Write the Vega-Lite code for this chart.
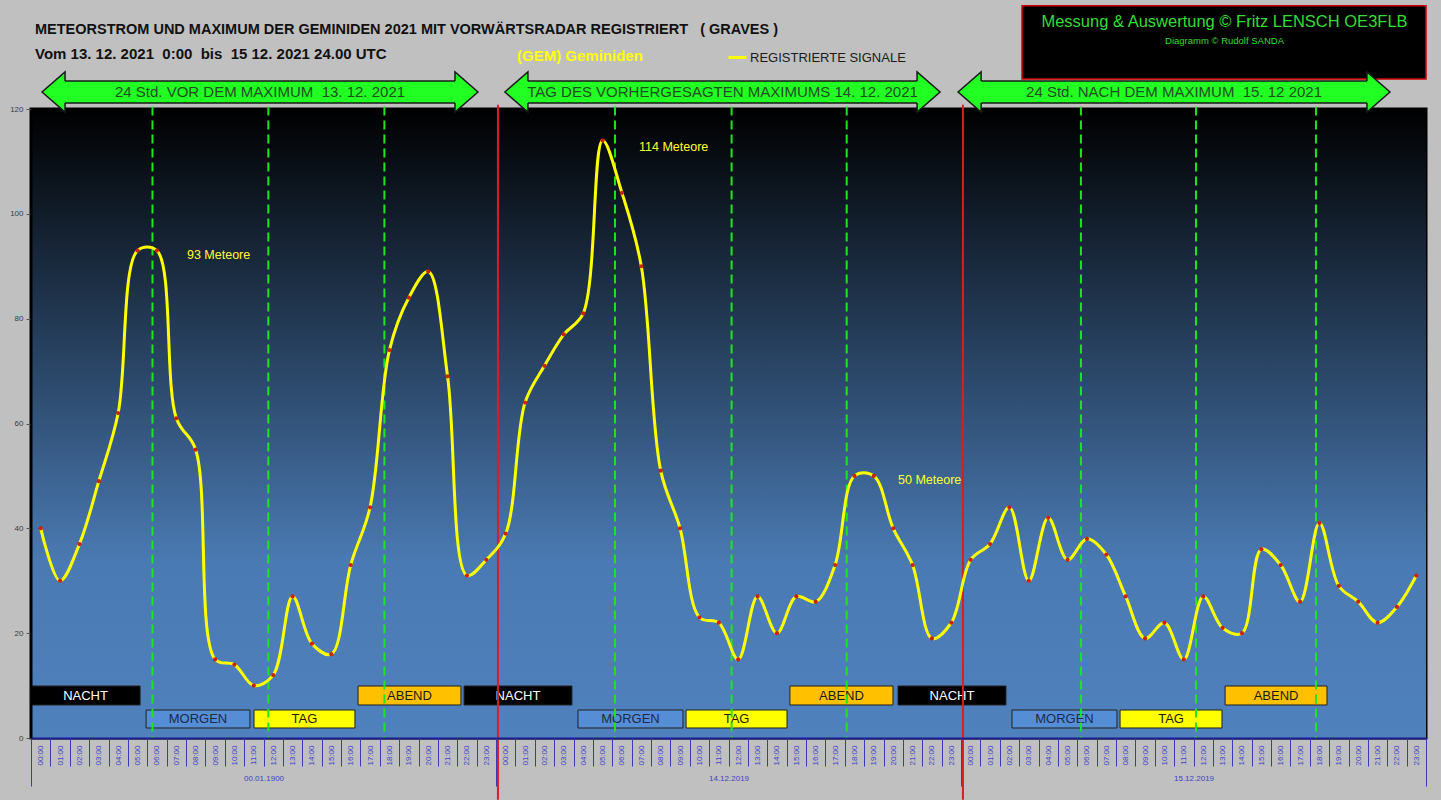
{
  "$schema": "https://vega.github.io/schema/vega-lite/v6.json",
  "width": 1395,
  "height": 629,
  "autosize": {"type": "none"},
  "padding": {"left": 31, "top": 109, "right": 15, "bottom": 62},
  "background": "#c0c0c0",
  "config": {
    "view": {"stroke": "#000000", "strokeWidth": 3},
    "font": "Liberation Sans",
    "text": {"font": "Liberation Sans"}
  },
  "title": {
    "text": "METEORSTROM UND MAXIMUM DER GEMINIDEN 2021 MIT VORWÄRTSRADAR REGISTRIERT\u00a0\u00a0\u00a0( GRAVES )",
    "subtitle": "Vom 13. 12. 2021\u00a0\u00a00:00\u00a0\u00a0bis\u00a0\u00a015 12. 2021 24.00 UTC",
    "anchor": "start",
    "frame": "group",
    "offset": -58,
    "dx": 4,
    "font": "Liberation Sans",
    "fontSize": 14.5,
    "fontWeight": "bold",
    "color": "#111111",
    "subtitleFont": "Liberation Sans",
    "subtitleFontSize": 15,
    "subtitleFontWeight": "bold",
    "subtitleColor": "#111111",
    "subtitlePadding": 9
  },
  "datasets": {
    "signale": [
      {"h": 0, "n": 40}, {"h": 1, "n": 30}, {"h": 2, "n": 37}, {"h": 3, "n": 49}, {"h": 4, "n": 62}, {"h": 5, "n": 93},
      {"h": 6, "n": 93}, {"h": 7, "n": 61}, {"h": 8, "n": 55}, {"h": 9, "n": 15}, {"h": 10, "n": 14}, {"h": 11, "n": 10},
      {"h": 12, "n": 12}, {"h": 13, "n": 27}, {"h": 14, "n": 18}, {"h": 15, "n": 16}, {"h": 16, "n": 33}, {"h": 17, "n": 44},
      {"h": 18, "n": 74}, {"h": 19, "n": 84}, {"h": 20, "n": 89}, {"h": 21, "n": 69}, {"h": 22, "n": 31}, {"h": 23, "n": 34},
      {"h": 24, "n": 39}, {"h": 25, "n": 64}, {"h": 26, "n": 71}, {"h": 27, "n": 77}, {"h": 28, "n": 81}, {"h": 29, "n": 114},
      {"h": 30, "n": 104}, {"h": 31, "n": 90}, {"h": 32, "n": 51}, {"h": 33, "n": 40}, {"h": 34, "n": 23}, {"h": 35, "n": 22},
      {"h": 36, "n": 15}, {"h": 37, "n": 27}, {"h": 38, "n": 20}, {"h": 39, "n": 27}, {"h": 40, "n": 26}, {"h": 41, "n": 33},
      {"h": 42, "n": 50}, {"h": 43, "n": 50}, {"h": 44, "n": 40}, {"h": 45, "n": 33}, {"h": 46, "n": 19}, {"h": 47, "n": 22},
      {"h": 48, "n": 34}, {"h": 49, "n": 37}, {"h": 50, "n": 44}, {"h": 51, "n": 30}, {"h": 52, "n": 42}, {"h": 53, "n": 34},
      {"h": 54, "n": 38}, {"h": 55, "n": 35}, {"h": 56, "n": 27}, {"h": 57, "n": 19}, {"h": 58, "n": 22}, {"h": 59, "n": 15},
      {"h": 60, "n": 27}, {"h": 61, "n": 21}, {"h": 62, "n": 20}, {"h": 63, "n": 36}, {"h": 64, "n": 33}, {"h": 65, "n": 26},
      {"h": 66, "n": 41}, {"h": 67, "n": 29}, {"h": 68, "n": 26}, {"h": 69, "n": 22}, {"h": 70, "n": 25}, {"h": 71, "n": 31}
    ],
    "phasen": [
      {"phase": "NACHT", "ebene": "oben", "von": -0.5, "bis": 5.13},
      {"phase": "MORGEN", "ebene": "unten", "von": 5.44, "bis": 10.8},
      {"phase": "TAG", "ebene": "unten", "von": 11.01, "bis": 16.22},
      {"phase": "ABEND", "ebene": "oben", "von": 16.38, "bis": 21.69},
      {"phase": "NACHT", "ebene": "oben", "von": 21.85, "bis": 27.42},
      {"phase": "MORGEN", "ebene": "unten", "von": 27.73, "bis": 33.15},
      {"phase": "TAG", "ebene": "unten", "von": 33.31, "bis": 38.52},
      {"phase": "ABEND", "ebene": "oben", "von": 38.67, "bis": 43.99},
      {"phase": "NACHT", "ebene": "oben", "von": 44.25, "bis": 49.82},
      {"phase": "MORGEN", "ebene": "unten", "von": 50.13, "bis": 55.55},
      {"phase": "TAG", "ebene": "unten", "von": 55.71, "bis": 60.97},
      {"phase": "ABEND", "ebene": "oben", "von": 61.13, "bis": 66.39}
    ],
    "marken": [
      {"zeit": 5.77}, {"zeit": 11.75}, {"zeit": 17.74},
      {"zeit": 29.64}, {"zeit": 35.66}, {"zeit": 41.6},
      {"zeit": 53.69}, {"zeit": 59.63}, {"zeit": 65.82}
    ],
    "tage": [{"grenze": 23.6}, {"grenze": 47.6}],
    "notizen": [
      {"text": "93 Meteore", "h": 7.55, "n": 92.2},
      {"text": "114 Meteore", "h": 30.88, "n": 112.75},
      {"text": "50 Meteore", "h": 44.25, "n": 49.2}
    ],
    "pfeile": [
      {"label": "24 Std. VOR DEM MAXIMUM\u00a0\u00a013. 12. 2021", "von": 0.07, "bis": 22.57},
      {"label": "TAG DES VORHERGESAGTEN MAXIMUMS 14. 12. 2021", "von": 23.96, "bis": 46.42},
      {"label": "24 Std. NACH DEM MAXIMUM\u00a0\u00a015. 12 2021", "von": 47.35, "bis": 69.64}
    ],
    "credit": [
      {"zeile1": "Messung & Auswertung © Fritz LENSCH OE3FLB", "zeile2": "Diagramm © Rudolf SANDA"}
    ]
  },
  "resolve": {"scale": {"x": "shared", "y": "shared"}, "axis": {"x": "independent", "y": "independent"}},
  "layer": [
    {
      "data": {"values": [{"bereich": "Diagrammfläche"}]},
      "mark": {
        "type": "rect",
        "color": {
          "gradient": "linear", "x1": 0, "y1": 0, "x2": 0, "y2": 1,
          "stops": [
            {"offset": 0, "color": "#000000"},
            {"offset": 0.72, "color": "#4a7ab3"},
            {"offset": 1, "color": "#4f81bd"}
          ]
        }
      },
      "encoding": {
        "x": {"datum": -0.5, "type": "quantitative", "scale": {"domain": [-0.5, 71.5], "nice": false, "zero": false}, "axis": null},
        "x2": {"datum": 71.5},
        "y": {"datum": 0, "type": "quantitative", "scale": {"domain": [0, 120], "nice": false, "zero": true}, "axis": null},
        "y2": {"datum": 120}
      }
    },
    {
      "data": {"name": "phasen"},
      "transform": [{"filter": "datum.ebene === 'oben'"}],
      "mark": {"type": "rect", "stroke": "#202020", "strokeWidth": 1},
      "encoding": {
        "x": {"field": "von", "type": "quantitative", "axis": null},
        "x2": {"field": "bis"},
        "y": {"datum": 6.3, "type": "quantitative", "axis": null},
        "y2": {"datum": 9.92},
        "fill": {"field": "phase", "type": "nominal", "scale": {"domain": ["NACHT", "MORGEN", "TAG", "ABEND"], "range": ["#000000", "#558ed5", "#ffff00", "#ffc000"]}, "legend": null}
      }
    },
    {
      "data": {"name": "phasen"},
      "transform": [{"filter": "datum.ebene === 'unten'"}],
      "mark": {"type": "rect", "stroke": "#202020", "strokeWidth": 1},
      "encoding": {
        "x": {"field": "von", "type": "quantitative", "axis": null},
        "x2": {"field": "bis"},
        "y": {"datum": 1.91, "type": "quantitative", "axis": null},
        "y2": {"datum": 5.34},
        "fill": {"field": "phase", "type": "nominal", "scale": {"domain": ["NACHT", "MORGEN", "TAG", "ABEND"], "range": ["#000000", "#558ed5", "#ffff00", "#ffc000"]}, "legend": null}
      }
    },
    {
      "data": {"name": "phasen"},
      "transform": [{"filter": "datum.ebene === 'oben'"}, {"calculate": "(datum.von + datum.bis) / 2", "as": "mitte"}],
      "mark": {"type": "text", "fontSize": 13, "align": "center", "baseline": "middle"},
      "encoding": {
        "x": {"field": "mitte", "type": "quantitative", "axis": null},
        "y": {"datum": 8.05, "type": "quantitative", "axis": null},
        "text": {"field": "phase"},
        "color": {"condition": {"test": "datum.phase === 'NACHT'", "value": "#ffffff"}, "value": "#1a1a1a"}
      }
    },
    {
      "data": {"name": "phasen"},
      "transform": [{"filter": "datum.ebene === 'unten'"}, {"calculate": "(datum.von + datum.bis) / 2", "as": "mitte"}],
      "mark": {"type": "text", "fontSize": 13, "align": "center", "baseline": "middle"},
      "encoding": {
        "x": {"field": "mitte", "type": "quantitative", "axis": null},
        "y": {"datum": 3.55, "type": "quantitative", "axis": null},
        "text": {"field": "phase"},
        "color": {"condition": {"test": "datum.phase === 'MORGEN'", "value": "#1c2a4a"}, "value": "#1a1a1a"}
      }
    },
    {
      "data": {"name": "marken"},
      "mark": {"type": "rule", "color": "#1ee61e", "strokeWidth": 2, "strokeDash": [9, 5]},
      "encoding": {
        "x": {
          "field": "zeit", "type": "quantitative",
          "axis": {
            "orient": "bottom", "values": [11.5, 35.5, 59.5],
            "labelExpr": "datum.value < 20 ? '00.01.1900' : (datum.value < 40 ? '14.12.2019' : '15.12.2019')",
            "ticks": false, "tickSize": 0, "domain": false, "grid": false, "title": null,
            "labelFont": "Liberation Sans", "labelFontSize": 8, "labelColor": "#3f3fc0",
            "labelPadding": 36, "labelOverlap": false, "labelFlush": false, "zindex": 1
          }
        },
        "y": {"datum": 120.5, "type": "quantitative", "axis": null},
        "y2": {"datum": 0}
      }
    },
    {
      "data": {"name": "tage"},
      "mark": {"type": "rule", "color": "#d42020", "strokeWidth": 2, "clip": false},
      "encoding": {
        "x": {
          "field": "grenze", "type": "quantitative",
          "axis": {
            "orient": "bottom", "values": [-0.5, 23.5, 47.5, 71.5],
            "labels": false, "ticks": true, "tickSize": 48, "tickColor": "#3a3ab5", "tickWidth": 1,
            "domain": false, "grid": false, "title": null, "zindex": 1
          }
        },
        "y": {"datum": 120.8, "type": "quantitative", "axis": null},
        "y2": {"datum": -11.8}
      }
    },
    {
      "data": {"name": "signale"},
      "mark": {"type": "line", "interpolate": "catmull-rom", "strokeWidth": 3},
      "encoding": {
        "x": {
          "field": "h", "type": "quantitative",
          "axis": {
            "orient": "bottom",
            "values": [0,1,2,3,4,5,6,7,8,9,10,11,12,13,14,15,16,17,18,19,20,21,22,23,24,25,26,27,28,29,30,31,32,33,34,35,36,37,38,39,40,41,42,43,44,45,46,47,48,49,50,51,52,53,54,55,56,57,58,59,60,61,62,63,64,65,66,67,68,69,70,71],
            "labelExpr": "(datum.value % 24 < 10 ? '0' : '') + (datum.value % 24) + ':00'",
            "labelAngle": -90, "labelFont": "Liberation Sans", "labelFontSize": 8, "labelColor": "#4040c8",
            "labelPadding": 7, "labelOverlap": false, "labelFlush": false, "labelBound": false,
            "ticks": false, "tickSize": 0, "grid": false, "title": null,
            "domainColor": "#1c1c8c", "domainWidth": 2, "zindex": 1
          }
        },
        "y": {
          "field": "n", "type": "quantitative",
          "axis": {
            "orient": "left",
            "values": [0, 20, 40, 60, 80, 100, 120],
            "title": null, "grid": false,
            "labels": true,
            "labelFont": "Liberation Sans", "labelFontSize": 8, "labelColor": "#3a3a3a",
            "ticks": true, "tickSize": 5, "tickColor": "#555555", "labelPadding": 3,
            "domain": true, "domainColor": "#000000", "domainWidth": 2, "zindex": 1
          }
        },
        "color": {
          "datum": "REGISTRIERTE SIGNALE", "type": "nominal",
          "scale": {"range": ["#ffff00"]},
          "legend": {
            "title": "(GEM) Geminiden", "orient": "none", "legendX": 486, "legendY": -62,
            "titleOrient": "left", "titlePadding": 84, "titleColor": "#ffff00",
            "titleFont": "Liberation Sans", "titleFontSize": 15, "titleFontWeight": "bold",
            "labelFont": "Liberation Sans", "labelFontSize": 13, "labelColor": "#1a1a1a",
            "symbolType": "stroke", "symbolStrokeWidth": 3, "symbolSize": 324, "labelOffset": 2,
            "padding": 0
          }
        }
      }
    },
    {
      "data": {"name": "signale"},
      "mark": {"type": "point", "filled": true, "color": "#cc2200", "size": 18, "opacity": 1},
      "encoding": {
        "x": {
          "field": "h", "type": "quantitative",
          "axis": {
            "orient": "bottom",
            "values": [-0.5,0.5,1.5,2.5,3.5,4.5,5.5,6.5,7.5,8.5,9.5,10.5,11.5,12.5,13.5,14.5,15.5,16.5,17.5,18.5,19.5,20.5,21.5,22.5,23.5,24.5,25.5,26.5,27.5,28.5,29.5,30.5,31.5,32.5,33.5,34.5,35.5,36.5,37.5,38.5,39.5,40.5,41.5,42.5,43.5,44.5,45.5,46.5,47.5,48.5,49.5,50.5,51.5,52.5,53.5,54.5,55.5,56.5,57.5,58.5,59.5,60.5,61.5,62.5,63.5,64.5,65.5,66.5,67.5,68.5,69.5,70.5,71.5],
            "labels": false, "ticks": true, "tickSize": 28, "tickColor": "#3a3ab5", "tickWidth": 1,
            "domain": false, "grid": false, "title": null, "zindex": 1
          }
        },
        "y": {"field": "n", "type": "quantitative", "axis": null}
      }
    },
    {
      "data": {"name": "notizen"},
      "mark": {"type": "text", "align": "left", "baseline": "middle", "fontSize": 12.5, "color": "#ffff33"},
      "encoding": {
        "x": {"field": "h", "type": "quantitative", "axis": null},
        "y": {"field": "n", "type": "quantitative", "axis": null},
        "text": {"field": "text"}
      }
    },
    {
      "data": {"name": "credit"},
      "mark": {"type": "rect", "fill": "#000000", "stroke": "#cc0000", "strokeWidth": 1.5, "clip": false},
      "encoding": {
        "x": {"datum": 50.65, "type": "quantitative", "axis": null},
        "x2": {"datum": 71.5},
        "y": {"datum": 125.7, "type": "quantitative", "axis": null},
        "y2": {"datum": 139.7}
      }
    },
    {
      "data": {"name": "credit"},
      "mark": {"type": "text", "align": "center", "baseline": "middle", "fontSize": 16.5, "color": "#33dd33"},
      "encoding": {
        "x": {"datum": 61.1, "type": "quantitative", "axis": null},
        "y": {"datum": 136.6, "type": "quantitative", "axis": null},
        "text": {"field": "zeile1"}
      }
    },
    {
      "data": {"name": "credit"},
      "mark": {"type": "text", "align": "center", "baseline": "middle", "fontSize": 9.5, "color": "#33dd33"},
      "encoding": {
        "x": {"datum": 61.1, "type": "quantitative", "axis": null},
        "y": {"datum": 133.0, "type": "quantitative", "axis": null},
        "text": {"field": "zeile2"}
      }
    },
    {
      "data": {"name": "pfeile"},
      "mark": {"type": "rect", "fill": "#22ff22", "stroke": "#1a1a1a", "strokeWidth": 1.5, "xOffset": 20, "x2Offset": -20},
      "encoding": {
        "x": {"field": "von", "type": "quantitative", "axis": null},
        "x2": {"field": "bis"},
        "y": {"datum": 121.14, "type": "quantitative", "axis": null},
        "y2": {"datum": 125.34}
      }
    },
    {
      "data": {"name": "pfeile"},
      "mark": {"type": "point", "shape": "M1.15,-0.55L1.15,-1L0,0L1.15,1L1.15,0.55", "size": 1600, "filled": true, "fill": "#22ff22", "stroke": "#1a1a1a", "strokeWidth": 1.5, "opacity": 1},
      "encoding": {
        "x": {"field": "von", "type": "quantitative", "axis": null},
        "y": {"datum": 123.24, "type": "quantitative", "axis": null}
      }
    },
    {
      "data": {"name": "pfeile"},
      "mark": {"type": "point", "shape": "M-1.15,-0.55L-1.15,-1L0,0L-1.15,1L-1.15,0.55", "size": 1600, "filled": true, "fill": "#22ff22", "stroke": "#1a1a1a", "strokeWidth": 1.5, "opacity": 1},
      "encoding": {
        "x": {"field": "bis", "type": "quantitative", "axis": null},
        "y": {"datum": 123.24, "type": "quantitative", "axis": null}
      }
    },
    {
      "data": {"name": "pfeile"},
      "transform": [{"calculate": "(datum.von + datum.bis) / 2", "as": "mitte"}],
      "mark": {"type": "text", "align": "center", "baseline": "middle", "fontSize": 15, "color": "#1e4d1e"},
      "encoding": {
        "x": {"field": "mitte", "type": "quantitative", "axis": null},
        "y": {"datum": 123.24, "type": "quantitative", "axis": null},
        "text": {"field": "label"}
      }
    }
  ]
}
